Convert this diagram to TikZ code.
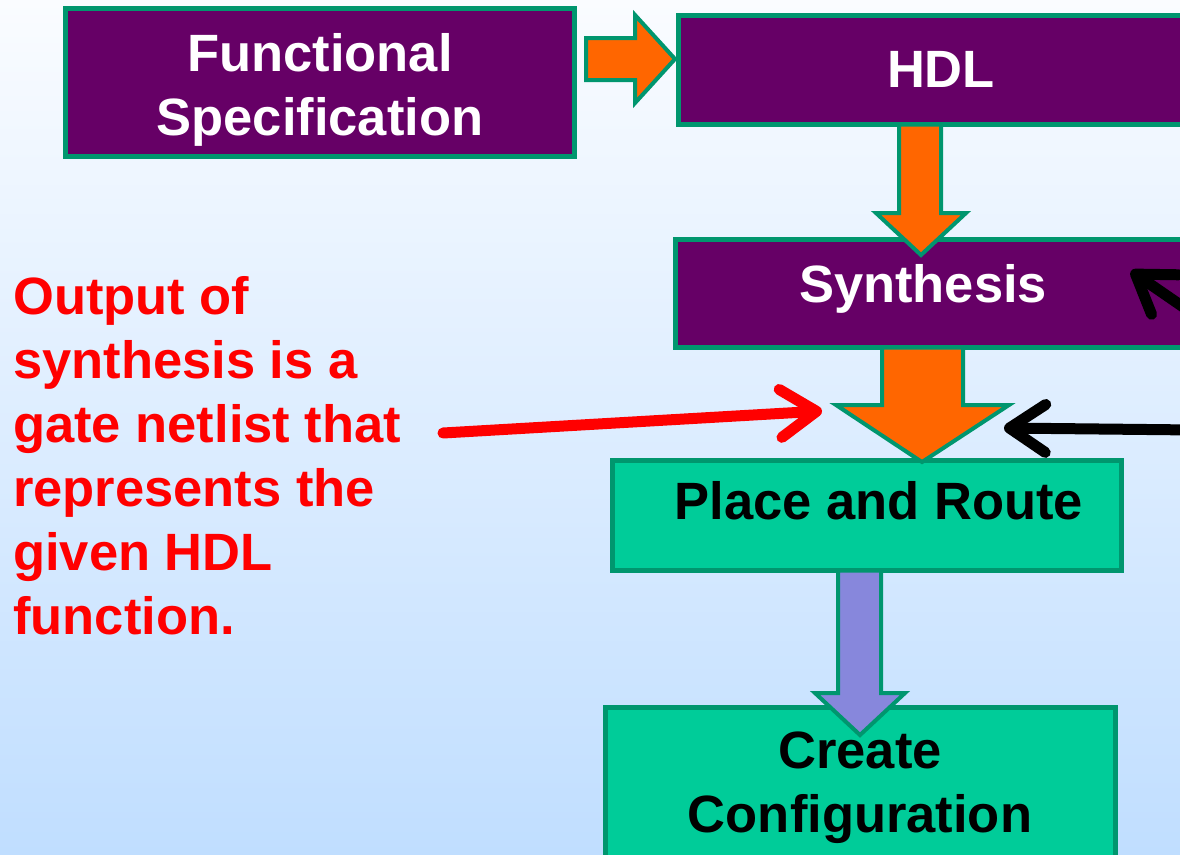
\documentclass[tikz,border=0pt]{standalone}
\usepackage{fontspec}
\setmainfont{Liberation Sans}
\usetikzlibrary{arrows.meta,calc}

\definecolor{plum}{HTML}{660066}
\definecolor{mint}{HTML}{00CC99}
\definecolor{edgeteal}{RGB}{0,150,110}
\definecolor{flame}{HTML}{FF6600}
\definecolor{lilac}{RGB}{135,135,220}
\definecolor{skytop}{RGB}{250,252,255}
\definecolor{skybot}{RGB}{192,222,255}

\tikzset{
  box/.style={rectangle, draw=edgeteal, line width=5pt, inner sep=0pt},
  darkstage/.style={box, fill=plum},
  lightstage/.style={box, fill=mint},
  bigtext/.style={font=\fontsize{52.5}{64}\bfseries, inner sep=0pt},
  fatarrow/.style={draw=edgeteal, line width=4pt, line join=miter},
  thinarrow/.style={line width=11pt, line cap=round,
    -{Straight Barb[length=36pt,width=48pt,round]}},
}

\begin{document}
\begin{tikzpicture}[x=1pt,y=-1pt]
  \useasboundingbox (0,0) rectangle (1180,854);
  \clip (0,0) rectangle (1180,854);
  \shade[top color=skytop, bottom color=skybot] (0,0) rectangle (1180,854);

  % stage boxes
  \node[darkstage, minimum width=509pt, minimum height=148pt] (fs) at (320,82.5) {};
  \node[darkstage, minimum width=529pt, minimum height=109pt] (hdl) at (943,70) {};
  \node[darkstage, minimum width=532pt, minimum height=108pt] (syn) at (941.5,293.5) {};
  \node[lightstage, minimum width=509pt, minimum height=110pt] (pr) at (867,515.5) {};
  \node[lightstage, minimum width=510pt, minimum height=170pt] (cc) at (860.5,792.5) {};

  % stage labels (base anchor sits on the last line)
  \node[bigtext, text=white, align=center, anchor=base] (fstext) at (320,135)
    {Functional\\Specification};
  \node[bigtext, text=white, anchor=base] (hdltext) at (941,87) {HDL};
  \node[bigtext, text=white, anchor=base] (syntext) at (923,302) {Synthesis};
  \node[bigtext, text=black, anchor=base] (prtext) at (879,519) {Place and Route};
  \node[bigtext, text=black, align=center, anchor=base] (cctext) at (860,832)
    {Create\\Configuration};

  % block arrows between stages
  \begin{scope}[shift={(fs.east)}]
    \draw[fatarrow, fill=flame] (9,-44.5) -- (58,-44.5) -- (58,-67.5) -- (98,-23.5)
      -- (58,20.5) -- (58,-2.5) -- (9,-2.5) -- cycle;
  \end{scope}
  \begin{scope}[shift={(hdl.south)}]
    \draw[fatarrow, fill=flame] (-44,-2.5) -- (-2,-2.5) -- (-2,86) -- (23,86)
      -- (-22,128) -- (-67,86) -- (-44,86) -- cycle;
  \end{scope}
  \begin{scope}[shift={(syn.south)}]
    \draw[fatarrow, fill=flame] (-59.5,-2.5) -- (21.5,-2.5) -- (21.5,55) -- (67.5,55)
      -- (-19.5,112) -- (-105.5,55) -- (-59.5,55) -- cycle;
  \end{scope}
  \begin{scope}[shift={(pr.south)}]
    \draw[fatarrow, fill=lilac] (-29,-2.5) -- (14,-2.5) -- (14,120) -- (38,120)
      -- (-7,162) -- (-52,120) -- (-29,120) -- cycle;
  \end{scope}

  % annotation
  \node[bigtext, text=red, align=left, anchor=base west] (note) at (13,634)
    {Output of\\synthesis is a\\gate netlist that\\represents the\\given HDL\\function.};

  \coordinate (notetail) at (443,433);
  \coordinate (notetip) at (822,411);
  \coordinate (backtail) at (1195,430);
  \coordinate (backtip) at (1004,428);
  \coordinate (uptail) at (1205,322);
  \coordinate (uptip) at (1131,271);

  \draw[thinarrow, red] (notetail) -- (notetip);
  \draw[thinarrow, black] (backtail) -- (backtip);
  \draw[thinarrow, black] (uptail) -- (uptip);
\end{tikzpicture}
\end{document}
